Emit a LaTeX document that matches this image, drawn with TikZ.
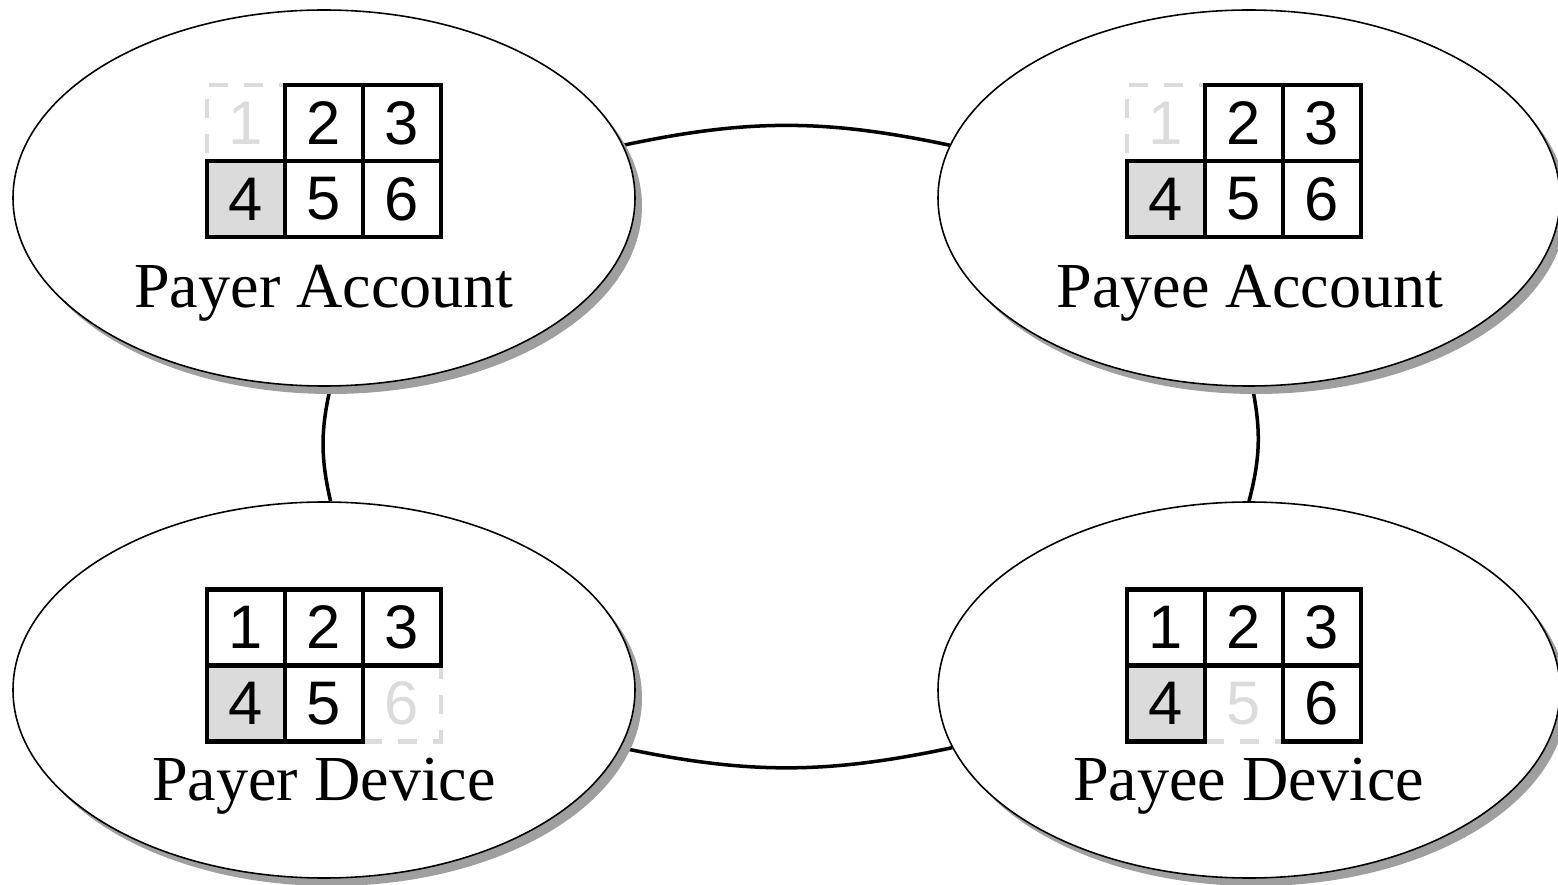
\documentclass[tikz,border=0pt]{standalone}
\usepackage{fontspec}
\setmainfont{Liberation Serif}
\newfontfamily\padfont{Liberation Sans}
\usetikzlibrary{positioning,shapes.geometric,shadows,backgrounds}

\begin{document}
\begin{tikzpicture}[
    party/.style={ellipse, draw, line width=0.9pt, fill=white, inner sep=0pt,
      minimum width=12.44cm, minimum height=7.52cm,
      drop shadow={shadow xshift=0.14cm, shadow yshift=-0.16cm, fill=gray!75, opacity=1}},
    cell/.style={rectangle, draw, line width=2.5pt, minimum width=1.56cm, minimum height=1.52cm,
      inner sep=0pt, outer sep=0pt, font=\padfont\fontsize{35}{35}\selectfont},
    hit/.style={cell, fill=gray!28},
    gone/.style={cell, draw=gray!28, text=gray!28, dash pattern=on 11pt off 9pt},
    partylabel/.style={anchor=base, font=\fontsize{36.5}{36.5}\selectfont},
    edgeline/.style={line width=2pt}]

    \useasboundingbox (0,0) rectangle (31.16,-17.7);

    % the four parties
    \node[party] (tl) at (6.48,-3.96) {};
    \node[party] (tr) at (24.98,-3.96) {};
    \node[party] (bl) at (6.48,-13.8) {};
    \node[party] (br) at (24.98,-13.8) {};

    % links, kept under the shadows
    \begin{scope}[on background layer]
        \draw[edgeline] (tl.10) to[bend left=12] (tr.170);
        \draw[edgeline] (bl.-11) to[bend right=12] (br.191);
        \draw[edgeline] (tl.-88) to[bend right=13] (bl.88);
        \draw[edgeline] (tr.-89) to[bend left=13] (br.90);
    \end{scope}

    % payer account
    \node[gone] (tl1) at (4.92,-2.46) {1};
    \node[cell, right=0pt of tl1] (tl2) {2};
    \node[cell, right=0pt of tl2] (tl3) {3};
    \node[hit, below=0pt of tl1] (tl4) {4};
    \node[cell, right=0pt of tl4] (tl5) {5};
    \node[cell, right=0pt of tl5] (tl6) {6};
    \node[partylabel] (tlname) at (6.48,-6.16) {Payer Account};

    % payee account
    \node[gone] (tr1) at (23.32,-2.46) {1};
    \node[cell, right=0pt of tr1] (tr2) {2};
    \node[cell, right=0pt of tr2] (tr3) {3};
    \node[hit, below=0pt of tr1] (tr4) {4};
    \node[cell, right=0pt of tr4] (tr5) {5};
    \node[cell, right=0pt of tr5] (tr6) {6};
    \node[partylabel] (trname) at (25.0,-6.16) {Payee Account};

    % payer device
    \node[gone] (bl6) at (8.04,-14.07) {6};
    \node[cell, left=0pt of bl6] (bl5) {5};
    \node[hit, left=0pt of bl5] (bl4) {4};
    \node[cell, above=0pt of bl5] (bl2) {2};
    \node[cell, left=0pt of bl2] (bl1) {1};
    \node[cell, right=0pt of bl2] (bl3) {3};
    \node[partylabel] (blname) at (6.48,-16.0) {Payer Device};

    % payee device
    \node[gone] (br5) at (24.88,-14.07) {5};
    \node[hit, left=0pt of br5] (br4) {4};
    \node[cell, right=0pt of br5] (br6) {6};
    \node[cell, above=0pt of br5] (br2) {2};
    \node[cell, left=0pt of br2] (br1) {1};
    \node[cell, right=0pt of br2] (br3) {3};
    \node[partylabel] (brname) at (24.97,-16.0) {Payee Device};

\end{tikzpicture}
\end{document}
